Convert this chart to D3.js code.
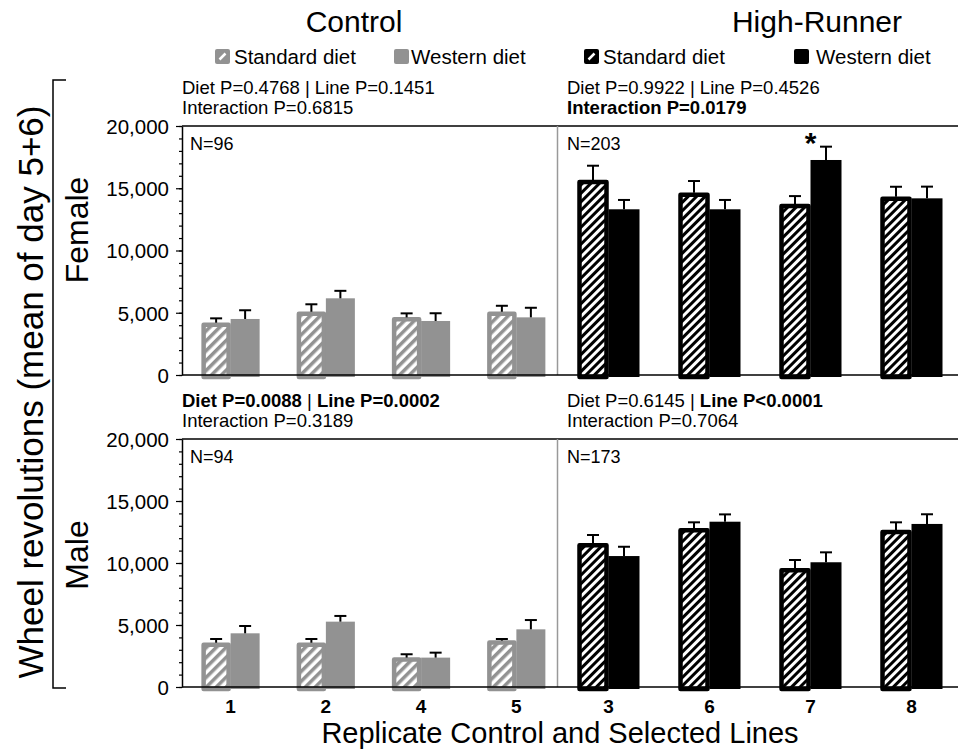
<!DOCTYPE html>
<html>
<head>
<meta charset="utf-8">
<script src="https://cdn.jsdelivr.net/npm/d3@7"></script>
<style>
  body { margin: 0; background: #fff; }
  svg { font-family: "Liberation Sans", Arial, sans-serif; display: block; }
</style>
</head>
<body>
<div id="chart-area"></div>
<script>

// Data
var controlLines = ["1", "2", "4", "5"];
var hrLines = ["3", "6", "7", "8"];
var yTicks = [0, 5000, 10000, 15000, 20000];

var ctrlFemaleStd = [4200, 5080, 4630, 5080];
var ctrlFemaleStdErr = [350, 600, 320, 480];
var ctrlFemaleWest = [4500, 6160, 4340, 4630];
var ctrlFemaleWestErr = [700, 600, 620, 770];

var hrFemaleStd = [15660, 14640, 13730, 14320];
var hrFemaleStdErr = [1150, 940, 640, 800];
var hrFemaleWest = [13310, 13310, 17270, 14190];
var hrFemaleWestErr = [750, 750, 1070, 940];

var ctrlMaleStd = [3570, 3570, 2370, 3740];
var ctrlMaleStdErr = [300, 300, 270, 130];
var ctrlMaleWest = [4330, 5270, 2370, 4650];
var ctrlMaleWestErr = [590, 460, 400, 750];

var hrMaleStd = [11590, 12800, 9570, 12660];
var hrMaleStdErr = [670, 480, 670, 620];
var hrMaleWest = [10560, 13330, 10060, 13150];
var hrMaleWestErr = [750, 590, 800, 780];

var grey = "#929292";

var width = 958, height = 749;

var svg = d3.select("#chart-area").append("svg")
    .attr("width", width)
    .attr("height", height);

// hatch patterns
var defs = svg.append("defs");
function hatch(id, color, size) {
  var p = defs.append("pattern")
      .attr("id", id)
      .attr("patternUnits", "userSpaceOnUse")
      .attr("width", size).attr("height", size)
      .attr("patternTransform", "rotate(45)");
  p.append("rect").attr("width", size).attr("height", size).attr("fill", "#fff");
  p.append("rect").attr("width", size / 2).attr("height", size).attr("fill", color);
}
hatch("hatch-grey", grey, 7);
hatch("hatch-black", "#000", 6);

// Scales
var xCtrl = d3.scalePoint().domain(controlLines).range([183, 564]).padding(0.5);
var xHr = d3.scalePoint().domain(hrLines).range([558, 962]).padding(0.5);

var panels = [
  {top: 126, bottom: 375, n: ["N=96", "N=203"], data: [
    {x: xCtrl, w: 29, color: grey, pat: "hatch-grey", std: ctrlFemaleStd, stdErr: ctrlFemaleStdErr, west: ctrlFemaleWest, westErr: ctrlFemaleWestErr},
    {x: xHr, w: 31, color: "#000", pat: "hatch-black", std: hrFemaleStd, stdErr: hrFemaleStdErr, west: hrFemaleWest, westErr: hrFemaleWestErr}
  ]},
  {top: 439, bottom: 687, n: ["N=94", "N=173"], data: [
    {x: xCtrl, w: 29, color: grey, pat: "hatch-grey", std: ctrlMaleStd, stdErr: ctrlMaleStdErr, west: ctrlMaleWest, westErr: ctrlMaleWestErr},
    {x: xHr, w: 31, color: "#000", pat: "hatch-black", std: hrMaleStd, stdErr: hrMaleStdErr, west: hrMaleWest, westErr: hrMaleWestErr}
  ]}
];

panels.forEach(function(p, pi) {
  var y = d3.scaleLinear().domain([0, 20000]).range([p.bottom, p.top]);
  var g = svg.append("g");

  // frame
  g.append("line").attr("x1", 182).attr("x2", 958).attr("y1", p.top).attr("y2", p.top)
      .attr("stroke", "#000").attr("stroke-width", 1.5);
  g.append("line").attr("x1", 557.5).attr("x2", 557.5).attr("y1", p.top).attr("y2", p.bottom)
      .attr("stroke", "#999").attr("stroke-width", 1.5);

  p.data.forEach(function(s) {
    var rows = s.x.domain().map(function(d, i) {
      return {line: d, std: s.std[i], stdErr: s.stdErr[i], west: s.west[i], westErr: s.westErr[i]};
    });
    var grp = g.selectAll(null).data(rows).enter().append("g");

    // standard diet: hatched with thick border
    grp.append("rect")
        .attr("x", function(d) { return s.x(d.line) - s.w + 2; })
        .attr("y", function(d) { return y(d.std) + 2; })
        .attr("width", s.w - 4)
        .attr("height", function(d) { return y(0) - y(d.std); })
        .attr("fill", "url(#" + s.pat + ")")
        .attr("stroke", s.color)
        .attr("stroke-width", 4.5)
        .attr("stroke-linejoin", "round");

    // western diet: solid
    grp.append("rect")
        .attr("x", function(d) { return s.x(d.line); })
        .attr("y", function(d) { return y(d.west); })
        .attr("width", s.w)
        .attr("height", function(d) { return y(0) - y(d.west) + 2; })
        .attr("fill", s.color);

    // error bars
    var errs = [];
    rows.forEach(function(d) {
      errs.push({cx: s.x(d.line) - s.w / 2, v: d.std, e: d.stdErr});
      errs.push({cx: s.x(d.line) + s.w / 2, v: d.west, e: d.westErr});
    });
    var eg = g.selectAll(null).data(errs).enter().append("g")
        .attr("stroke", "#000").attr("stroke-width", 2);
    eg.append("line")
        .attr("x1", function(d) { return d.cx; }).attr("x2", function(d) { return d.cx; })
        .attr("y1", function(d) { return y(d.v); })
        .attr("y2", function(d) { return y(d.v + d.e); });
    eg.append("line")
        .attr("x1", function(d) { return d.cx - 6; }).attr("x2", function(d) { return d.cx + 6; })
        .attr("y1", function(d) { return y(d.v + d.e); })
        .attr("y2", function(d) { return y(d.v + d.e); });
  });

  // baseline
  g.append("line").attr("x1", 182).attr("x2", 958).attr("y1", p.bottom).attr("y2", p.bottom)
      .attr("stroke", "#000").attr("stroke-width", 1.5);

  // y axis
  var minor = g.append("g")
      .attr("transform", "translate(182,0)")
      .call(d3.axisLeft(y).tickValues(d3.range(0, 20001, 1000)).tickSize(3).tickFormat(""));
  minor.select(".domain").remove();
  minor.selectAll("line").attr("stroke-width", 1.2);

  var ax = g.append("g")
      .attr("transform", "translate(182,0)")
      .call(d3.axisLeft(y).tickValues(yTicks).tickSize(6).tickSizeOuter(0).tickFormat(d3.format(",")));
  ax.select(".domain").attr("stroke-width", 1.5);
  ax.selectAll("line").attr("stroke-width", 1.2);
  ax.selectAll("text")
      .attr("font-size", 20.5)
      .attr("font-family", "Liberation Sans, Arial, sans-serif")
      .attr("fill", "#000")
      .attr("x", -13)
      .attr("dy", "0.36em");

  // N labels
  g.append("text").attr("x", 190).attr("y", p.top + 24).attr("font-size", 18).text(p.n[0]);
  g.append("text").attr("x", 567).attr("y", p.top + 24).attr("font-size", 18).text(p.n[1]);
});

// significance star
svg.append("text")
    .attr("x", xHr("7"))
    .attr("y", 153)
    .attr("text-anchor", "middle")
    .attr("font-size", 30)
    .attr("font-weight", "bold")
    .text("*");

// stats text
function stats(x, yy, parts1, parts2) {
  [parts1, parts2].forEach(function(parts, i) {
    var t = svg.append("text").attr("x", x).attr("y", yy + i * 20).attr("font-size", 18.5);
    parts.forEach(function(pt) {
      t.append("tspan").attr("font-weight", pt[1] ? "bold" : "normal").text(pt[0]);
    });
  });
}
stats(182, 94, [["Diet P=0.4768 | Line P=0.1451", false]], [["Interaction P=0.6815", false]]);
stats(567, 94, [["Diet P=0.9922 | Line P=0.4526", false]], [["Interaction P=0.0179", true]]);
stats(182, 407, [["Diet P=0.0088", true], [" | ", false], ["Line P=0.0002", true]], [["Interaction P=0.3189", false]]);
stats(567, 407, [["Diet P=0.6145 | ", false], ["Line P<0.0001", true]], [["Interaction P=0.7064", false]]);

// group titles
svg.append("text").attr("x", 354).attr("y", 32).attr("text-anchor", "middle")
    .attr("font-size", 30).text("Control");
svg.append("text").attr("x", 817).attr("y", 32).attr("text-anchor", "middle")
    .attr("font-size", 30).text("High-Runner");

// legends
function legendItem(x, color, hatched, label, gap) {
  var g = svg.append("g").attr("transform", "translate(" + x + ",49)");
  g.append("rect").attr("width", 15).attr("height", 15).attr("rx", 2).attr("fill", color);
  if (hatched) {
    g.append("line").attr("x1", 4.5).attr("y1", 10.5).attr("x2", 10.5).attr("y2", 4.5)
        .attr("stroke", "#fff").attr("stroke-width", 2.5);
  }
  g.append("text").attr("x", gap).attr("y", 15).attr("font-size", 20.5).text(label);
}
legendItem(215, grey, true, "Standard diet", 19);
legendItem(394, grey, false, "Western diet", 17);
legendItem(584, "#000", true, "Standard diet", 19);
legendItem(794, "#000", false, "Western diet", 22);

// x labels
var xl = svg.append("g").attr("font-size", 19).attr("font-weight", "bold").attr("text-anchor", "middle");
xl.selectAll(null).data(controlLines).enter().append("text")
    .attr("x", function(d) { return xCtrl(d); }).attr("y", 713).text(function(d) { return d; });
xl.selectAll(null).data(hrLines).enter().append("text")
    .attr("x", function(d) { return xHr(d); }).attr("y", 713).text(function(d) { return d; });

svg.append("text").attr("x", 560).attr("y", 743).attr("text-anchor", "middle")
    .attr("font-size", 29).text("Replicate Control and Selected Lines");

// left labels
svg.append("text").attr("transform", "translate(88,230) rotate(-90)")
    .attr("text-anchor", "middle").attr("font-size", 32).text("Female");
svg.append("text").attr("transform", "translate(88,555) rotate(-90)")
    .attr("text-anchor", "middle").attr("font-size", 32).text("Male");
svg.append("text").attr("transform", "translate(43,392) rotate(-90)")
    .attr("text-anchor", "middle").attr("font-size", 35).text("Wheel revolutions (mean of day 5+6)");

// bracket
svg.append("path")
    .attr("d", "M66,80 H53 V688 H66")
    .attr("fill", "none").attr("stroke", "#000").attr("stroke-width", 1.5);

</script>
</body>
</html>
